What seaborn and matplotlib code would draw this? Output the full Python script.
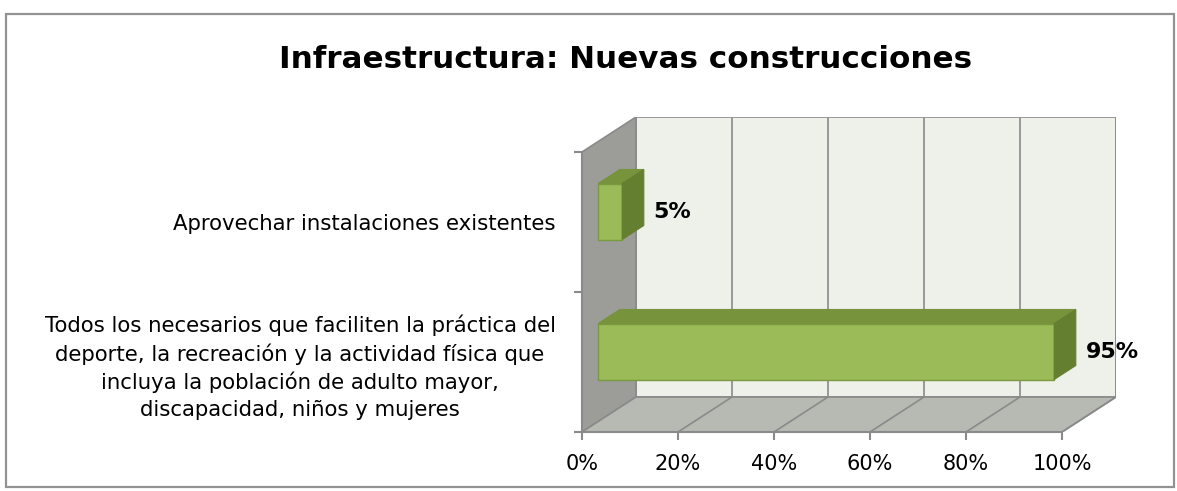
import matplotlib
matplotlib.use('Agg')
import matplotlib.pyplot as plt
import matplotlib.transforms as mtransforms
from matplotlib.patches import Polygon, Rectangle
import pandas as pd
import seaborn as sns

sns.set_style('white')
plt.rcParams['font.family'] = ['DejaVu Sans']
plt.rcParams['text.color'] = 'black'
plt.rcParams['xtick.color'] = 'black'
plt.rcParams['ytick.color'] = 'black'

title = 'Infraestructura: Nuevas construcciones'
categories = ['Aprovechar instalaciones existentes',
              'Todos los necesarios que faciliten la práctica del\n'
              'deporte, la recreación y la actividad física que\n'
              'incluya la población de adulto mayor,\n'
              'discapacidad, niños y mujeres']
values = [5, 95]
value_labels = ['5%', '95%']
x_ticks = [0, 20, 40, 60, 80, 100]
x_tick_labels = ['0%', '20%', '40%', '60%', '80%', '100%']

df = pd.DataFrame({'categoria': categories, 'valor': values})

# fake 3d: depth offset in data units
DX, DY = 11.25, -0.25
z0, z1 = 0.3, 0.7
grid_c = '#8a8a8a'

W, H = 1177, 491
fig = plt.figure(figsize=(W / 100, H / 100), dpi=100)

# outer chart border
fig.add_artist(Rectangle((6 / W, 4 / H), 1168 / W, 473 / H, transform=fig.transFigure,
                         facecolor='white', edgecolor='#929292', lw=1.6, zorder=0))

ax = fig.add_axes([582 / W, 59 / H, 534 / W, 315 / H])
ax.patch.set_alpha(0)

sns.barplot(data=df, x='valor', y='categoria', orient='h', width=0.4,
            color='#9bbb59', saturation=1, edgecolor='#7a9a40', linewidth=1, ax=ax, zorder=5)

ax.set_xlim(0, 100 + DX)
ax.set_ylim(1.5, -0.5 + DY)

# walls
ax.add_patch(Rectangle((DX, -0.5 + DY), 100, 2, facecolor='#eef0ea', edgecolor=grid_c, lw=1.2, zorder=1))
ax.add_patch(Polygon([(0, -0.5), (DX, -0.5 + DY), (DX, 1.5 + DY), (0, 1.5)],
                     closed=True, facecolor='#9c9d98', edgecolor=grid_c, lw=1.2, zorder=1))
ax.add_patch(Polygon([(0, 1.5), (100, 1.5), (100 + DX, 1.5 + DY), (DX, 1.5 + DY)],
                     closed=True, facecolor='#b7b9b3', edgecolor=grid_c, lw=1.2, zorder=1))
for t in x_ticks[1:]:
    ax.plot([t + DX, t + DX], [-0.5 + DY, 1.5 + DY], color=grid_c, lw=1.2, zorder=2)
    ax.plot([t, t + DX], [1.5, 1.5 + DY], color=grid_c, lw=1.2, zorder=2)

# axis lines along the front
ax.plot([0, 100], [1.5, 1.5], color=grid_c, lw=1.5, zorder=3, clip_on=False)
ax.plot([0, 0], [-0.5, 1.5], color=grid_c, lw=1.5, zorder=3, clip_on=False)

# bar top/side faces
shift = mtransforms.Affine2D().translate(z0 * DX, z0 * DY) + ax.transData
bdx, bdy = (z1 - z0) * DX, (z1 - z0) * DY
for p in ax.patches[:len(values)]:
    x, y, w, h = p.get_x(), p.get_y(), p.get_width(), p.get_height()
    p.set_transform(shift)
    x0, x1 = x + z0 * DX, x + w + z0 * DX
    yt, yb = y + z0 * DY, y + h + z0 * DY
    ax.add_patch(Polygon([(x0, yt), (x1, yt), (x1 + bdx, yt + bdy), (x0 + bdx, yt + bdy)],
                         closed=True, facecolor='#77933c', edgecolor='#77933c', lw=0.8, zorder=5))
    ax.add_patch(Polygon([(x1, yt), (x1, yb), (x1 + bdx, yb + bdy), (x1 + bdx, yt + bdy)],
                         closed=True, facecolor='#657f31', edgecolor='#657f31', lw=0.8, zorder=5))

for i, (v, lab) in enumerate(zip(values, value_labels)):
    ax.text(v + z1 * DX + 2, i + z0 * DY, lab, ha='left', va='center',
            fontsize=16, fontweight='bold', color='black', zorder=6)

for s in ax.spines.values():
    s.set_visible(False)

ax.set_xticks(x_ticks)
ax.set_xticklabels(x_tick_labels, fontsize=15)
ax.set_yticks([-0.5, 0.5, 1.5], minor=True)
ax.set_yticks([0, 1])
ax.set_yticklabels(categories, fontsize=15.3, multialignment='center', linespacing=1.4)
ax.tick_params(axis='x', which='major', direction='out', length=6, width=1.5, color=grid_c,
               pad=10, bottom=True)
ax.tick_params(axis='y', which='major', length=0, pad=19, left=True)
ax.tick_params(axis='y', which='minor', direction='out', length=6, width=1.5, color=grid_c, left=True)
ax.set_xlabel('')
ax.set_ylabel('')

fig.text(626 / W, 1 - 60 / H, title, ha='center', va='center', fontsize=22.3, fontweight='bold')

fig.savefig('out.png', dpi=100)
